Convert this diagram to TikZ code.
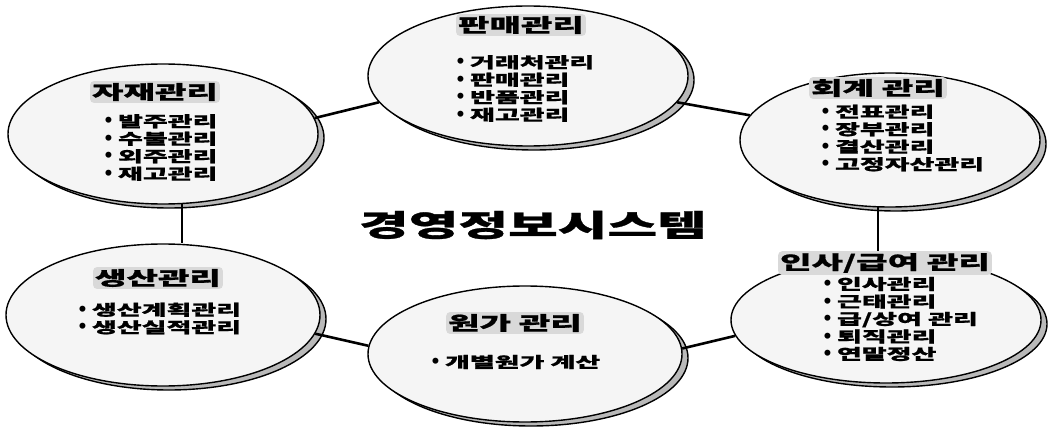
\documentclass[tikz,border=0pt]{standalone}
\usepackage{fontspec}
\newfontfamily\kr[FakeStretch=1.8, BoldFeatures={FakeBold=1}]{Noto Sans CJK KR}
\newfontfamily\dv{DejaVu Sans}
\usetikzlibrary{shapes.geometric,shadows}
\newcommand\bul{\smash{\dv\bfseries\fontsize{17}{17.5}\selectfont •}\hspace{4pt}}
\begin{document}
\begin{tikzpicture}[x=1pt,y=-1pt,
  bubble/.style={ellipse, draw=black, line width=1.4pt, fill=gray!8, inner sep=0pt,
    general shadow={shadow xshift=6pt, shadow yshift=-4pt, fill=gray!55, draw=black, line width=1.4pt}},
  ttl/.style={font=\kr\bfseries\fontsize{19}{21}\selectfont, fill=gray!30, inner sep=2pt, rounded corners=4pt},
  itm/.style={font=\kr\bfseries\fontsize{15}{17.5}\selectfont, align=left, anchor=west, inner sep=0pt},
  link/.style={line width=2.6pt}]
\useasboundingbox (0,0) rectangle (1049,433);

% ellipses
\node[bubble, minimum width=320pt, minimum height=140pt] (A) at (528,76) {};
\node[bubble, minimum width=310pt, minimum height=140pt] (B) at (163,134) {};
\node[bubble, minimum width=300pt, minimum height=134pt] (C) at (890,140) {};
\node[bubble, minimum width=314pt, minimum height=142pt] (D) at (163,315) {};
\node[bubble, minimum width=314pt, minimum height=136pt] (E) at (525,354) {};
\node[bubble, minimum width=310pt, minimum height=126pt] (F) at (886,320) {};

% connectors
\draw[link] (B.6) -- (A.190);
\draw[link] (A.350) -- (C.170);
\draw[link] (B.285) -- (B.285 |- D.north);
\draw[link] (C.260) -- (C.260 |- F.north);
\draw[link] (D.353) -- (E.177);
\draw[link] (E.2) -- (F.186);

% titles
\node[ttl] (At) at (521,25) {판매관리};
\node[ttl] (Bt) at (155,92) {자재관리};
\node[ttl] (Ct) at (878,88) {회계 관리};
\node[ttl] (Dt) at (158,278) {생산관리};
\node[ttl] (Et) at (515,323) {원가 관리};
\node[ttl] (Ft) at (885,263) {인사/급여 관리};

% items
\node[itm] (Ai) at (455,88.5) {\bul 거래처관리\\\bul 판매관리\\\bul 반품관리\\\bul 재고관리};
\node[itm] (Bi) at (103,147.5) {\bul 발주관리\\\bul 수불관리\\\bul 외주관리\\\bul 재고관리};
\node[itm] (Ci) at (820,138) {\bul 전표관리\\\bul 장부관리\\\bul 결산관리\\\bul 고정자산관리};
\node[itm] (Di) at (77,318.5) {\bul 생산계획관리\\\bul 생산실적관리};
\node[itm] (Ei) at (430,362) {\bul 개별원가 계산};
\node[itm] (Fi) at (822,319) {\bul 인사관리\\\bul 근태관리\\\bul 급/상여 관리\\\bul 퇴직관리\\\bul 연말정산};

% centre
\node[font=\kr\bfseries\fontsize{30}{32}\selectfont] (T) at (533,225) {경영정보시스템};
\end{tikzpicture}
\end{document}
